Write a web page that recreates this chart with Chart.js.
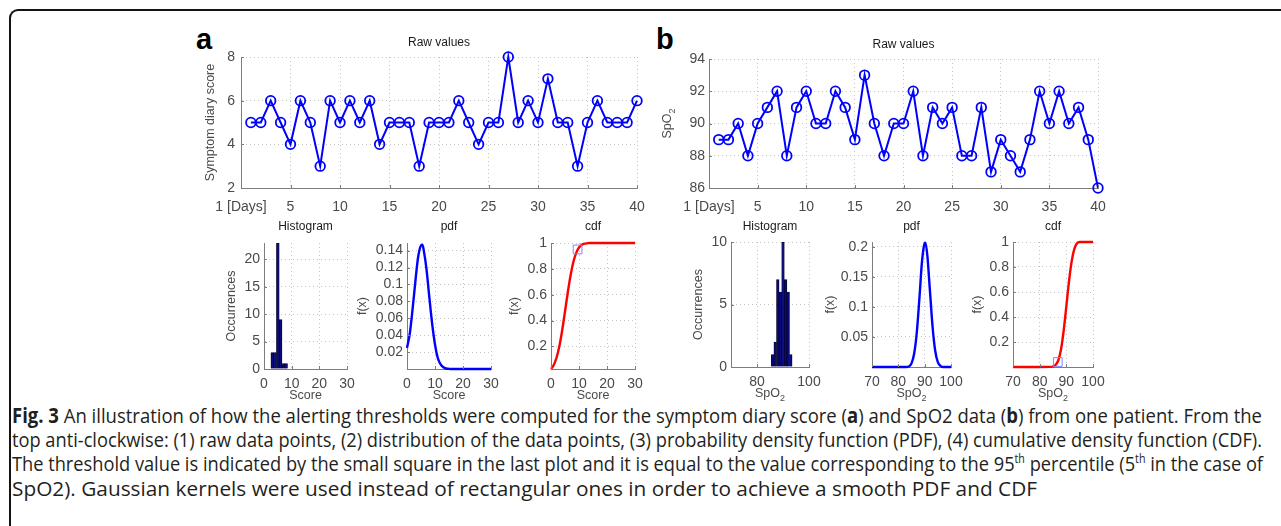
<!DOCTYPE html>
<html>
<head>
<meta charset="utf-8">
<script src="https://cdn.jsdelivr.net/npm/chart.js@4.4.1/dist/chart.umd.min.js"></script>
<style>
    body { margin: 0; background: #fff; width: 1281px; height: 526px; overflow: hidden; position: relative; }
    #frame { position: absolute; left: 9px; top: 9px; width: 1400px; height: 700px;
             border-left: 2px solid #141414; border-top: 2px solid #141414; border-top-left-radius: 9px; }
    canvas { position: absolute; }
    .panel { position: absolute; font: bold 29px/29px "Liberation Sans", Arial, sans-serif; color: #000; }
    #caption { position: absolute; left: 12px; top: 403px; font-family: "Open Sans", "Noto Sans", sans-serif;
               font-size: 20.5px; line-height: 24.2px; color: #231f20; }
    #caption .ln { white-space: nowrap; transform-origin: 0 0; }
    #caption sup { font-size: 12px; vertical-align: 8px; line-height: 0; }
</style>
</head>
<body>
<div id="frame"></div>
<div class="panel" style="left:196px; top:25px">a</div>
<div class="panel" style="left:656px; top:25px">b</div>
<div id="caption">
    <div class="ln"><span><b>Fig. 3</b> An illustration of how the alerting thresholds were computed for the symptom diary score (<b>a</b>) and SpO2 data (<b>b</b>) from one patient. From the</span></div>
    <div class="ln"><span>top anti-clockwise: (1) raw data points, (2) distribution of the data points, (3) probability density function (PDF), (4) cumulative density function (CDF).</span></div>
    <div class="ln"><span>The threshold value is indicated by the small square in the last plot and it is equal to the value corresponding to the 95<sup>th</sup> percentile (5<sup>th</sup> in the case of</span></div>
    <div class="ln"><span>SpO2). Gaussian kernels were used instead of rectangular ones in order to achieve a smooth PDF and CDF</span></div>
</div>
<script>
// Raw daily values (40 days)
const days = [1, 2, 3, 4, 5, 6, 7, 8, 9, 10, 11, 12, 13, 14, 15, 16, 17, 18, 19, 20,
              21, 22, 23, 24, 25, 26, 27, 28, 29, 30, 31, 32, 33, 34, 35, 36, 37, 38, 39, 40];
const scoreValues = [5, 5, 6, 5, 4, 6, 5, 3, 6, 5, 6, 5, 6, 4, 5, 5, 5, 3, 5, 5,
                     5, 6, 5, 4, 5, 5, 8, 5, 6, 5, 7, 5, 5, 3, 5, 6, 5, 5, 5, 6];
const spo2Values = [89, 89, 90, 88, 90, 91, 92, 88, 91, 92, 90, 90, 92, 91, 89, 93, 90, 88, 90, 90,
                    92, 88, 91, 90, 91, 88, 88, 91, 87, 89, 88, 87, 89, 92, 90, 92, 90, 91, 89, 86];

// Histograms
const scoreBins = [3, 4, 5, 6, 7, 8];
const scoreCounts = [3, 3, 23, 9, 1, 1];
const spo2Bins = [86, 87, 88, 89, 90, 91, 92, 93];
const spo2Counts = [1, 2, 7, 6, 10, 7, 6, 1];

// Kernel density curves
const scorePdfX = [0, 1, 2, 3, 4, 5, 5.5, 6, 7, 8, 9, 10, 11, 12, 13, 14, 15, 16, 20, 25, 30];
const scorePdfY = [0.025, 0.042, 0.071, 0.104, 0.133, 0.146, 0.147, 0.140, 0.117, 0.084, 0.053,
                   0.029, 0.013, 0.0055, 0.002, 0.0006, 0.0002, 0, 0, 0, 0];
const scoreCdfX = [0, 1, 2, 3, 4, 5, 6, 7, 8, 9, 10, 11, 12, 13, 14, 15, 20, 25, 30];
const scoreCdfY = [0.025, 0.056, 0.114, 0.203, 0.325, 0.470, 0.619, 0.751, 0.855, 0.924, 0.965,
                   0.986, 0.995, 0.998, 1, 1, 1, 1, 1];
const spo2PdfX = [70, 80, 83, 84, 85, 86, 87, 88, 89, 90, 90.3, 91, 92, 93, 94, 95, 96, 97, 100];
const spo2PdfY = [0, 0, 0, 0.001, 0.006, 0.022, 0.057, 0.114, 0.176, 0.206, 0.207, 0.186, 0.127,
                  0.067, 0.027, 0.008, 0.002, 0, 0];
const spo2CdfX = [70, 80, 84, 85, 86, 87, 88, 89, 90, 91, 92, 93, 94, 95, 100];
const spo2CdfY = [0, 0, 0.001, 0.004, 0.017, 0.054, 0.140, 0.290, 0.485, 0.685, 0.845, 0.945, 0.99, 1, 1];

// Threshold squares (95th / 5th percentile)
const scoreThreshold = [9.5, 0.95];
const spo2Threshold = [86.8, 0.04];

// Tick values and labels
const rawXTicks = [0, 5, 10, 15, 20, 25, 30, 35, 40];
const rawXLabels = ['1 [Days]', '5', '10', '15', '20', '25', '30', '35', '40'];
const scoreYTicks = [2, 4, 6, 8];
const spo2YTicks = [86, 88, 90, 92, 94];
const scoreXTicks = [0, 10, 20, 30];
const spo2XTicks = [70, 80, 90, 100];
const spo2HistXTicks = [80, 100];
const histAYTicks = [0, 5, 10, 15, 20];
const histBYTicks = [0, 5, 10];
const pdfAYTicks = [0.02, 0.04, 0.06, 0.08, 0.1, 0.12, 0.14];
const pdfBYTicks = [0.05, 0.1, 0.15, 0.2];
const cdfYTicks = [0.2, 0.4, 0.6, 0.8, 1];

// caption line widths in the figure (px)
const captionWidths = [1250, 1250, 1251, 1025];

const FONT = '"Liberation Sans", Arial, Helvetica, sans-serif';
const AXIS_COLOR = '#7d7d7d';
const GRID_COLOR = '#c4c4c4';
const TEXT_GRAY = '#4a4a4a';
const PAD_L = 72, PAD_T = 32, PAD_R = 22, PAD_B = 46;

const pts = (xs, ys) => xs.map((x, i) => ({x: x, y: ys[i]}));

// draws text with an optional subscript part, written as "SpO_2"
function label(ctx, text, x, y, size, color)
{
    const parts = text.split('_');
    ctx.fillStyle = color;
    ctx.font = size + 'px ' + FONT;
    const w1 = ctx.measureText(parts[0]).width;
    let w2 = 0;
    if (parts[1]) { ctx.font = (size * 0.72) + 'px ' + FONT; w2 = ctx.measureText(parts[1]).width; }
    const x0 = x - (w1 + w2) / 2;
    ctx.textAlign = 'left';
    ctx.textBaseline = 'middle';
    ctx.font = size + 'px ' + FONT;
    ctx.fillText(parts[0], x0, y);
    if (parts[1]) { ctx.font = (size * 0.72) + 'px ' + FONT; ctx.fillText(parts[1], x0 + w1, y + size * 0.35); }
}

// titles, axis names and inward tick marks (matlab style)
const decor = {
    id: 'decor',
    afterDraw(chart, args, o)
    {
        const ctx = chart.ctx, a = chart.chartArea, sx = chart.scales.x, sy = chart.scales.y;
        ctx.save();
        ctx.strokeStyle = AXIS_COLOR;
        ctx.lineWidth = 1;
        ctx.beginPath();
        sx.ticks.forEach(t => {
            const p = Math.round(sx.getPixelForValue(t.value)) + 0.5;
            ctx.moveTo(p, a.bottom); ctx.lineTo(p, a.bottom - 3);
        });
        sy.ticks.forEach(t => {
            const p = Math.round(sy.getPixelForValue(t.value)) + 0.5;
            ctx.moveTo(a.left, p); ctx.lineTo(a.left + 3, p);
        });
        ctx.stroke();
        if (o.title) label(ctx, o.title, (a.left + a.right) / 2, a.top - o.titleGap, 12, '#1a1a1a');
        if (o.xTitle) label(ctx, o.xTitle, (a.left + a.right) / 2, a.bottom + o.xGap, 12.5, TEXT_GRAY);
        if (o.yTitle)
        {
            ctx.translate(a.left - o.yGap, (a.top + a.bottom) / 2);
            ctx.rotate(-Math.PI / 2);
            label(ctx, o.yTitle, 0, 0, 12.5, TEXT_GRAY);
        }
        ctx.restore();
    }
};

function axis(spec, isX)
{
    return {
        type: 'linear',
        min: spec.min,
        max: spec.max,
        offset: false,
        afterBuildTicks: s => { s.ticks = spec.ticks.map(v => ({value: v})); },
        afterFit: s => { if (isX) s.height = PAD_B; else s.width = PAD_L; },
        grid: {color: GRID_COLOR, lineWidth: 1, drawTicks: false, offset: false},
        border: {display: true, color: AXIS_COLOR, width: 1, dash: [1, 3]},
        ticks: {
            color: TEXT_GRAY,
            font: {size: 14, family: FONT},
            padding: spec.pad,
            autoSkip: false,
            maxRotation: 0,
            callback: (v, i) => spec.labels ? spec.labels[i] : String(v)
        }
    };
}

// box = plot area [left, top, right, bottom] in page pixels
function makeChart(box, type, datasets, xs, ys, decorOpts)
{
    const cv = document.createElement('canvas');
    const w = box[2] - box[0] + PAD_L + PAD_R, h = box[3] - box[1] + PAD_T + PAD_B;
    cv.width = w; cv.height = h;
    cv.style.width = w + 'px'; cv.style.height = h + 'px';
    cv.style.left = (box[0] - PAD_L) + 'px';
    cv.style.top = (box[1] - PAD_T) + 'px';
    document.body.appendChild(cv);
    return new Chart(cv.getContext('2d'),
    {
        type: type,
        data: {datasets: datasets},
        options: {
            responsive: false,
            animation: false,
            devicePixelRatio: 1,
            layout: {padding: {top: PAD_T, right: PAD_R, left: 0, bottom: 0}},
            plugins: {legend: {display: false}, tooltip: {enabled: false}, decor: decorOpts},
            scales: {x: axis(xs, true), y: axis(ys, false)}
        },
        plugins: [decor]
    });
}

const rawStyle = {borderColor: '#0000ff', borderWidth: 2, pointRadius: 4.8, pointBorderWidth: 1.8,
                  pointBorderColor: '#0000ff', pointBackgroundColor: 'rgba(0,0,0,0)', tension: 0, clip: false};
const histStyle = {backgroundColor: '#0a0a80', borderColor: '#05052a', borderWidth: 0.8,
                   barPercentage: 1, categoryPercentage: 1};
const curveStyle = (c) => ({borderColor: c, borderWidth: 2.4, pointRadius: 0, cubicInterpolationMode: 'monotone', clip: false, order: 1});
const squareStyle = {showLine: false, pointStyle: 'rect', pointRadius: 6.2, pointBorderWidth: 1,
                     pointBorderColor: '#8585ff', pointBackgroundColor: 'rgba(0,0,0,0)', clip: false, order: 0};

// (a) symptom diary score
makeChart([241, 57, 637, 188], 'line',
    [Object.assign({data: pts(days, scoreValues)}, rawStyle)],
    {min: 0, max: 40, ticks: rawXTicks, labels: rawXLabels, pad: 11},
    {min: 2, max: 8, ticks: scoreYTicks, pad: 6},
    {title: 'Raw values', titleGap: 14, yTitle: 'Symptom diary score', yGap: 30});

makeChart([264, 243, 347, 369], 'bar',
    [Object.assign({data: pts(scoreBins, scoreCounts)}, histStyle)],
    {min: 0, max: 30, ticks: scoreXTicks, pad: 7},
    {min: 0, max: 23, ticks: histAYTicks, pad: 4},
    {title: 'Histogram', titleGap: 16, xTitle: 'Score', xGap: 27, yTitle: 'Occurrences', yGap: 32});

makeChart([407, 243, 491, 369], 'line',
    [Object.assign({data: pts(scorePdfX, scorePdfY)}, curveStyle('#0000ff'))],
    {min: 0, max: 30, ticks: scoreXTicks, pad: 7},
    {min: 0, max: 0.149, ticks: pdfAYTicks, pad: 4},
    {title: 'pdf', titleGap: 16, xTitle: 'Score', xGap: 27, yTitle: 'f(x)', yGap: 44});

makeChart([551, 243, 635, 369], 'line',
    [Object.assign({data: [{x: scoreThreshold[0], y: scoreThreshold[1]}]}, squareStyle),
     Object.assign({data: pts(scoreCdfX, scoreCdfY)}, curveStyle('#ff0000'))],
    {min: 0, max: 30, ticks: scoreXTicks, pad: 7},
    {min: 0.025, max: 1, ticks: cdfYTicks, pad: 4},
    {title: 'cdf', titleGap: 16, xTitle: 'Score', xGap: 27, yTitle: 'f(x)', yGap: 36});

// (b) SpO2
makeChart([709, 59, 1098, 188], 'line',
    [Object.assign({data: pts(days, spo2Values)}, rawStyle)],
    {min: 0, max: 40, ticks: rawXTicks, labels: rawXLabels, pad: 11},
    {min: 86, max: 94, ticks: spo2YTicks, pad: 4},
    {title: 'Raw values', titleGap: 14, yTitle: 'SpO_2', yGap: 41});

makeChart([731, 242, 809, 367], 'bar',
    [Object.assign({data: pts(spo2Bins, spo2Counts)}, histStyle)],
    {min: 70, max: 100, ticks: spo2HistXTicks, pad: 7},
    {min: 0, max: 10, ticks: histBYTicks, pad: 4},
    {title: 'Histogram', titleGap: 15, xTitle: 'SpO_2', xGap: 27, yTitle: 'Occurrences', yGap: 32});

makeChart([872, 242, 951, 367], 'line',
    [Object.assign({data: pts(spo2PdfX, spo2PdfY)}, curveStyle('#0000ff'))],
    {min: 70, max: 100, ticks: spo2XTicks, pad: 7},
    {min: 0, max: 0.208, ticks: pdfBYTicks, pad: 4},
    {title: 'pdf', titleGap: 15, xTitle: 'SpO_2', xGap: 27, yTitle: 'f(x)', yGap: 41});

makeChart([1013, 242, 1093, 367], 'line',
    [Object.assign({data: [{x: spo2Threshold[0], y: spo2Threshold[1]}]}, squareStyle),
     Object.assign({data: pts(spo2CdfX, spo2CdfY)}, curveStyle('#ff0000'))],
    {min: 70, max: 100, ticks: spo2XTicks, pad: 7},
    {min: 0, max: 1, ticks: cdfYTicks, pad: 4},
    {title: 'cdf', titleGap: 15, xTitle: 'SpO_2', xGap: 27, yTitle: 'f(x)', yGap: 35});

// caption: squeeze each line horizontally to its width in the figure,
// this gives the narrow look of the journal font
(function fitCaption()
{
    const lines = document.querySelectorAll('#caption .ln');
    lines.forEach((l, i) =>
    {
        const w = l.firstElementChild.getBoundingClientRect().width;
        l.style.transform = `scaleX(${captionWidths[i] / w})`;
    });
})();
</script>
</body>
</html>
